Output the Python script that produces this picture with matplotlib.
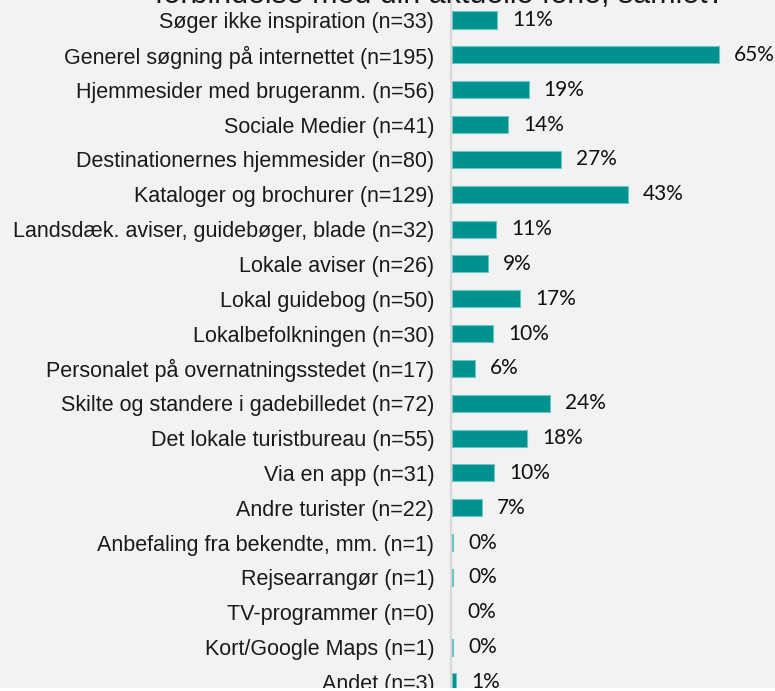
# %% Imports and setup
import matplotlib.pyplot as plt
from matplotlib.patches import Rectangle

LABELS = [
    "Søger ikke inspiration (n=33)",
    "Generel søgning på internettet (n=195)",
    "Hjemmesider med brugeranm. (n=56)",
    "Sociale Medier (n=41)",
    "Destinationernes hjemmesider (n=80)",
    "Kataloger og brochurer (n=129)",
    "Landsdæk. aviser, guidebøger, blade (n=32)",
    "Lokale aviser (n=26)",
    "Lokal guidebog (n=50)",
    "Lokalbefolkningen (n=30)",
    "Personalet på overnatningsstedet (n=17)",
    "Skilte og standere i gadebilledet (n=72)",
    "Det lokale turistbureau (n=55)",
    "Via en app (n=31)",
    "Andre turister (n=22)",
    "Anbefaling fra bekendte, mm. (n=1)",
    "Rejsearrangør (n=1)",
    "TV-programmer (n=0)",
    "Kort/Google Maps (n=1)",
    "Andet (n=3)",
]
# share in percent (bar length), displayed rounded
VALUES = [11.0, 65.0, 18.7, 13.7, 26.7, 43.0, 10.7, 8.7, 16.7, 10.0,
          5.7, 24.0, 18.3, 10.3, 7.3, 0.3, 0.3, 0.0, 0.3, 1.0]
TITLE = "forbindelse med din aktuelle ferie, samlet?"

BG = "#f2f2f2"
BAR = "#00918f"
EDGE = "#6cc6c4"

W, H = 775, 691
fig = plt.figure(figsize=(W / 100, H / 100), dpi=100, facecolor=BG)

# axes: zero line at x=451px, rows from y=20px to y=682px
x0 = 451
ax = fig.add_axes([x0 / W, 0, 1 - x0 / W, 1])
ax.set_facecolor(BG)

step = (682 - 20) / (len(LABELS) - 1)
top = 20
ax.set_ylim((H - top) / step, -top / step)
ax.set_xlim(0, (W - x0) / 4.1)

ypos = list(range(len(LABELS)))
for y, v in zip(ypos, VALUES):
    if v > 0:
        ax.barh(y, v, left=0.25, height=0.49, color=BAR, edgecolor=EDGE,
                linewidth=0.8, zorder=3)
    ax.annotate(f"{round(v)}%", (v, y), xytext=(11.5, 0), textcoords="offset points",
                va="center", ha="left", fontsize=15, family="Lato", color="#111111")

ax.set_yticks(ypos, LABELS, fontsize=15.5, family="Liberation Sans", color="#1a1a1a")
ax.tick_params(axis="y", length=0, pad=12)
ax.set_xticks([])
for side in ["top", "right", "bottom"]:
    ax.spines[side].set_visible(False)
ax.spines["left"].set_color("#d9d9d9")
ax.spines["left"].set_linewidth(1.5)

# title, mostly cut off at the top edge
fig.text(440 / W, 1 - 3 / H, TITLE, ha="center", va="baseline", fontsize=22,
         family="Liberation Sans", color="#1a1a1a")

# white strip at the very bottom
fig.patches.append(Rectangle((0, 0), 1, 3 / H, transform=fig.transFigure,
                             facecolor="white", edgecolor="none"))

fig.savefig("out.png", dpi=100, facecolor=BG)
